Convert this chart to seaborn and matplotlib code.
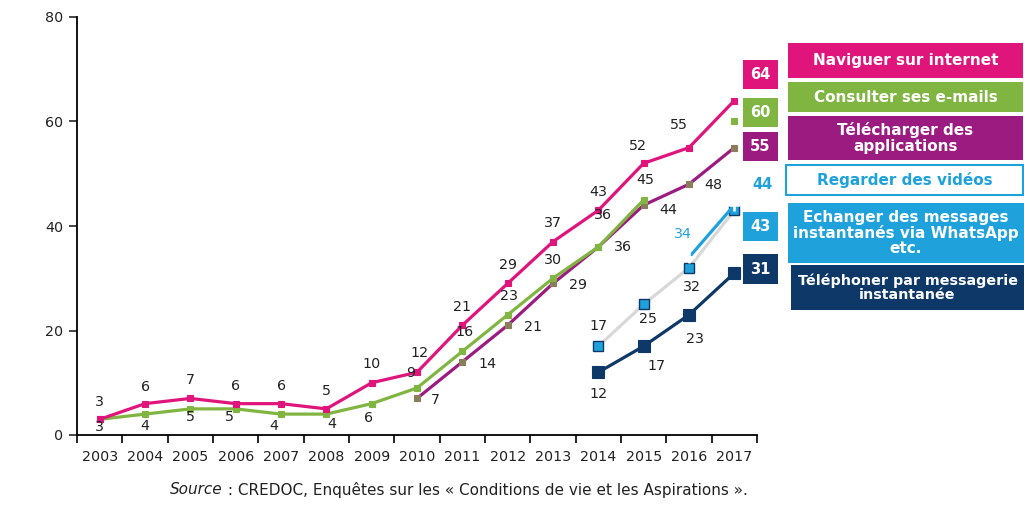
import numpy as np
import pandas as pd
import matplotlib
matplotlib.use("Agg")
import matplotlib.pyplot as plt
from matplotlib.patches import Rectangle
import seaborn as sns

# ---------------- data ----------------
years = list(range(2003, 2018))
naviguer = [3, 6, 7, 6, 6, 5, 10, 12, 21, 29, 37, 43, 52, 55, 64]
emails = [3, 4, 5, 5, 4, 4, 6, 9, 16, 23, 30, 36, 45, None, 60]
applis = [None] * 7 + [7, 14, 21, 29, 36, 44, 48, 55]
videos = [None] * 13 + [34, 44]
messages = [None] * 11 + [17, 25, 32, 43]
telephone = [None] * 11 + [12, 17, 23, 31]

series_names = [
    "Naviguer sur internet",
    "Consulter ses e-mails",
    "Télécharger des\napplications",
    "Regarder des vidéos",
    "Echanger des messages\ninstantanés via WhatsApp\netc.",
    "Téléphoner par messagerie\ninstantanée",
]
source_label = "Source"
source_text = " : CREDOC, Enquêtes sur les « Conditions de vie et les Aspirations »."

# ---------------- style ----------------
PINK = "#e0157c"
GREEN = "#80b541"
PURPLE = "#9c1b80"
LBLUE = "#1fa2dc"
NAVY = "#0e3868"
GRAY = "#d8d8d8"
TXT = "#222222"

sns.set_theme(style="ticks")
plt.rcParams["font.family"] = ["DejaVu Sans"]

fig = plt.figure(figsize=(10.24, 5.12), dpi=100)
W, H = 1024, 512
ax = fig.add_axes([77 / W, 77 / H, 680 / W, 418 / H])


def draw_series(values, color, marker, msize, mfc, mec, lw=2.3, mew=0.8):
    df = pd.DataFrame({"year": years, "v": values}).dropna()
    run = (df["year"].diff() != 1).cumsum()
    for _, part in df.groupby(run):
        sns.lineplot(data=part, x="year", y="v", ax=ax, color=color, lw=lw,
                     marker=marker, markersize=msize, markerfacecolor=mfc,
                     markeredgecolor=mec, markeredgewidth=mew, legend=False,
                     estimator=None, sort=False)
    return df


d_msg = draw_series(messages, GRAY, "s", 7, LBLUE, NAVY, lw=2.3, mew=1.0)
d_vid = draw_series(videos, LBLUE, "+", 9, "white", "white", lw=2.3, mew=1.8)
d_tel = draw_series(telephone, NAVY, "s", 8, NAVY, NAVY)
d_app = draw_series(applis, PURPLE, "s", 5, "#8a7d5c", "#8a7d5c")
d_mail = draw_series(emails, GREEN, "s", 5, GREEN, GREEN)
d_nav = draw_series(naviguer, PINK, "s", 5, PINK, PINK)

ax.set_xlim(2002.5, 2017.5)
ax.set_ylim(0, 80)
ax.set_yticks([0, 20, 40, 60, 80])
ax.set_xticks(years)
ax.set_xticklabels([str(y) for y in years])
ax.set_xticks(np.arange(2002.5, 2018, 1), minor=True)
ax.tick_params(axis="x", which="major", length=0, pad=11, labelsize=10.3, labelcolor=TXT)
ax.tick_params(axis="x", which="minor", length=6, width=1.2, direction="out", color="black")
ax.tick_params(axis="y", length=6, width=1.2, labelsize=10.3, labelcolor=TXT, pad=4)
ax.set_xlabel("")
ax.set_ylabel("")
for s in ["top", "right"]:
    ax.spines[s].set_visible(False)
for s in ["left", "bottom"]:
    ax.spines[s].set_linewidth(1.3)
    ax.spines[s].set_color("black")

# ---------------- data labels ----------------
off_nav = [(0, -17), (0, -17), (0, -18), (0, -18), (0, -18), (0, -18), (0, -19),
           (2, -19), (0, -18), (0, -18), (0, -19), (0, -18), (-6, -17), (-10, -23)]
off_mail = [(0, 8), (0, 12), (0, 8), (-6, 8), (-7, 12), (5, 10), (-3, 14),
            (-6, -15), (2, -19), (1, -19), (0, -18), (5, -32), (2, -20)]
off_app = [(18, 2), (25, 2), (25, 2), (25, 2), (25, 0), (25, 5), (24, 1)]
off_msg = [(0, -20), (4, 15), (3, 19)]
off_vid = [(-6, -23)]
off_tel = [(0, 22), (13, 20), (6, 24)]


def labels(df, offs, color=TXT):
    rows = df.iloc[:-1]
    for (yr, v), (dx, dy) in zip(rows[["year", "v"]].values, offs):
        ax.annotate(f"{int(v)}", (yr, v), xytext=(dx, -dy), textcoords="offset pixels",
                    ha="center", va="center", fontsize=10.3, color=color,
                    annotation_clip=False)


labels(d_nav, off_nav)
labels(d_mail, off_mail)
labels(d_app, off_app)
labels(d_msg, off_msg)
labels(d_vid, off_vid, color=LBLUE)
labels(d_tel, off_tel)

# end-value boxes (2017)
end_specs = [
    (d_nav, PINK, "white", 26, -26),
    (d_mail, GREEN, "white", 26, -9),
    (d_app, PURPLE, "white", 26, -1),
    (d_vid, None, LBLUE, 28, -21),
    (d_msg, LBLUE, "white", 26, 16),
    (d_tel, NAVY, "white", 26, -4),
]
for df, fc, tc, dx, dy in end_specs:
    yr, v = df[["year", "v"]].values[-1]
    bbox = None
    if fc is not None:
        bbox = dict(boxstyle="square,pad=0.5", fc=fc, ec="none")
    ax.annotate(f"{int(v)}", (yr, v), xytext=(dx, -dy), textcoords="offset pixels",
                ha="center", va="center", fontsize=10.5, fontweight="bold",
                color=tc, bbox=bbox, annotation_clip=False)

# ---------------- legend boxes ----------------
legend_boxes = [
    (788, 43, 235, 35, PINK, None, "white", 11),
    (788, 82, 235, 30, GREEN, None, "white", 11),
    (788, 116, 235, 44, PURPLE, None, "white", 11),
    (786, 165, 237, 30, "white", LBLUE, LBLUE, 11),
    (788, 203, 236, 60, LBLUE, None, "white", 11),
    (791, 265, 233, 45, NAVY, None, "white", 10.3),
]
for (x0, y0, w, h, fc, ec, tc, fs), name in zip(legend_boxes, series_names):
    rect = Rectangle((x0 / W, 1 - (y0 + h) / H), w / W, h / H, transform=fig.transFigure,
                     facecolor=fc, edgecolor=ec if ec else "none", lw=1.5, clip_on=False)
    fig.add_artist(rect)
    fig.text((x0 + w / 2) / W, 1 - (y0 + h / 2) / H, name, ha="center", va="center",
             fontsize=fs, fontweight="bold", color=tc, linespacing=1.0)

# ---------------- source ----------------
t1 = fig.text(170 / W, 1 - 490 / H, source_label, fontstyle="italic", fontsize=11,
              color=TXT, ha="left", va="center")
ax.annotate(source_text, xy=(1, 0.5), xycoords=t1, ha="left", va="center",
            fontsize=11, color=TXT, annotation_clip=False)

fig.savefig("out.png", dpi=100)
